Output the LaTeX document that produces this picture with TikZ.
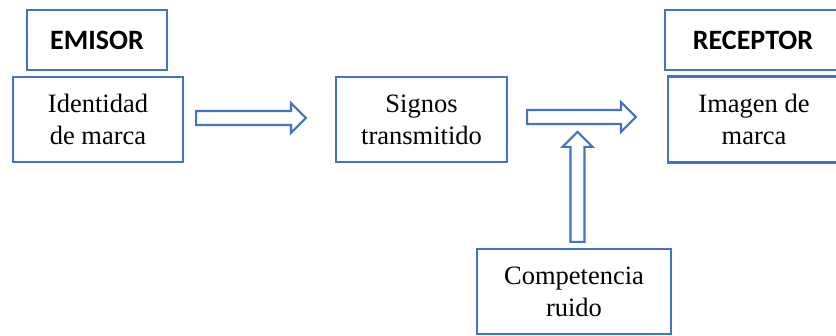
\documentclass[tikz,border=0pt]{standalone}
\usepackage{fontspec}
\setmainfont{Liberation Serif}
\newfontfamily\calibri{Carlito}
\usetikzlibrary{calc}
\definecolor{officeblue}{RGB}{68,114,196}

\tikzset{
    box/.style={draw=officeblue, line width=2.1pt, fill=white, align=center,
        inner sep=0pt, font=\fontsize{26.5}{32}\selectfont},
    rolebox/.style={box, font=\calibri\bfseries\fontsize{28}{32}\selectfont},
    blockarrow/.style={draw=officeblue, line width=2.1pt, line join=miter,
        to path={
            ($(\tikztostart)!7pt!90:(\tikztotarget)$)
            -- ($(\tikztotarget)!15pt!(\tikztostart)!7pt!-90:(\tikztostart)$)
            -- ($(\tikztotarget)!15pt!(\tikztostart)!15pt!-90:(\tikztostart)$)
            -- (\tikztotarget)
            -- ($(\tikztotarget)!15pt!(\tikztostart)!15pt!90:(\tikztostart)$)
            -- ($(\tikztotarget)!15pt!(\tikztostart)!7pt!90:(\tikztostart)$)
            -- ($(\tikztostart)!7pt!-90:(\tikztotarget)$)
            -- cycle}}
}

\begin{document}
\begin{tikzpicture}[x=1pt, y=1pt]

    \useasboundingbox (0,0) rectangle (836,336);
    \clip (0,0) rectangle (836,336);

    % Emitter side
    \node[rolebox, minimum width=140pt, minimum height=60pt] (emisor) at (97,296) {EMISOR};
    \node[box, minimum width=170pt, minimum height=85pt] (ident) at (98,216.5) {Identidad\\de marca};

    % Middle
    \node[box, minimum width=171pt, minimum height=85pt] (signos) at (421.5,216.5) {Signos\\transmitido};
    \node[box, minimum width=194pt, minimum height=85pt] (comp) at (574,44.5) {Competencia\\ruido};

    % Receiver side (runs past the right edge)
    \node[rolebox, minimum width=176pt, minimum height=60pt] (receptor) at (753,296) {RECEPTOR};
    \node[box, minimum width=172pt, minimum height=86pt] (imagen) at (754,216.5) {Imagen de\\marca};

    % Arrow ends
    \coordinate (a1s) at ([xshift=12pt,yshift=1.5pt]ident.east);
    \coordinate (a1e) at ([xshift=-29pt]signos.west |- a1s);
    \coordinate (a2s) at ([xshift=19pt,yshift=2.5pt]signos.east);
    \coordinate (a2e) at ([xshift=-31pt]imagen.west |- a2s);
    \coordinate (a3s) at ([xshift=3.5pt,yshift=6pt]comp.north);
    \coordinate (a3e) at ([yshift=110pt]a3s);

    % Hollow arrows
    \draw[blockarrow] (a1s) to (a1e);
    \draw[blockarrow] (a2s) to (a2e);
    \draw[blockarrow] (a3s) to (a3e);

\end{tikzpicture}
\end{document}
